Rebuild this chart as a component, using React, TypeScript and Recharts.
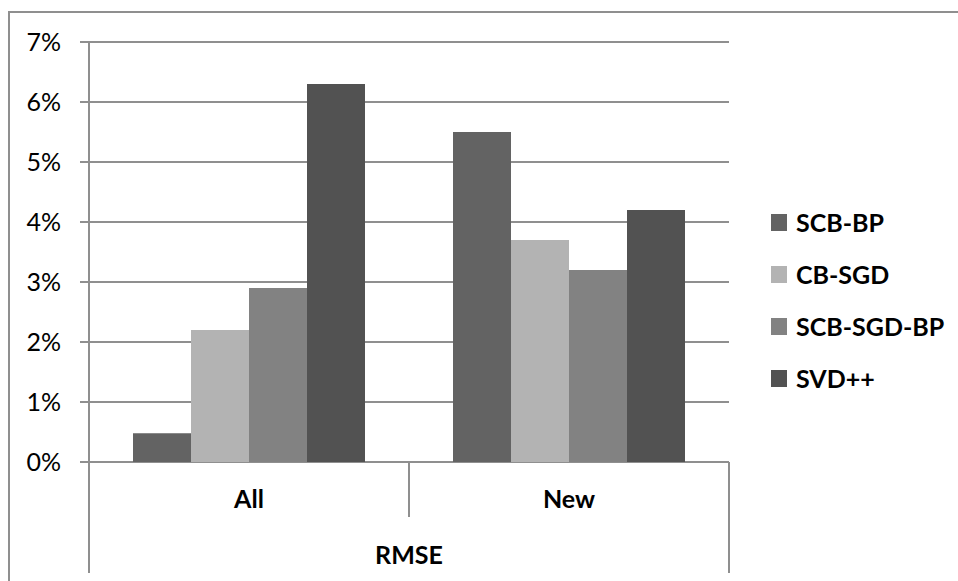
import React from 'react';
import { BarChart, Bar, XAxis, YAxis, CartesianGrid, Legend } from 'recharts';

const categories = ['All', 'New'];
const scbBp = [0.0048, 0.055];
const cbSgd = [0.022, 0.037];
const scbSgdBp = [0.029, 0.032];
const svdpp = [0.063, 0.042];
const yTicks = [0, 0.01, 0.02, 0.03, 0.04, 0.05, 0.06, 0.07];
const groupLabel = 'RMSE';

const seriesNames = ['SCB-BP', 'CB-SGD', 'SCB-SGD-BP', 'SVD++'];
const seriesColors = ['#636363', '#b3b3b3', '#828282', '#525252'];
const seriesValues = [scbBp, cbSgd, scbSgdBp, svdpp];

const data = categories.map((c, i) => {
  const row: Record<string, any> = { cat: c };
  seriesNames.forEach((n, k) => {
    row[n] = seriesValues[k][i];
  });
  return row;
});

const FONT = 'Lato, "Open Sans", sans-serif';
const LINE = '#8f8f8f';

const CatTick = (props: any) => {
  const { x, y, payload, index, visibleTicksCount } = props;
  const off = payload.offset || 0;
  const left = x - off;
  const right = x + off;
  const isFirst = index === 0;
  const isLast = index === visibleTicksCount - 1;
  return (
    <g>
      <text
        x={x}
        y={y + 46}
        textAnchor="middle"
        fontFamily={FONT}
        fontWeight={700}
        fontSize={25}
        fill="#000"
      >
        {payload.value}
      </text>
      <line x1={left} x2={left} y1={y} y2={y + (isFirst ? 111 : 55)} stroke={LINE} strokeWidth={2} />
      {isLast && <line x1={right} x2={right} y1={y} y2={y + 111} stroke={LINE} strokeWidth={2} />}
    </g>
  );
};

const LegendContent = (props: any) => {
  const payload = [...(props.payload || [])].sort(
    (a: any, b: any) => seriesNames.indexOf(a.value) - seriesNames.indexOf(b.value)
  );
  return (
    <ul style={{ listStyle: 'none', margin: 0, padding: 0 }}>
      {payload.map((e: any) => (
        <li
          key={e.value}
          style={{ display: 'flex', alignItems: 'center', height: 52, fontFamily: FONT, fontWeight: 700, fontSize: 25, color: '#000' }}
        >
          <span style={{ display: 'inline-block', width: 16, height: 17, background: e.color, marginRight: 9 }} />
          <span>{e.value}</span>
        </li>
      ))}
    </ul>
  );
};

export default function App() {
  return (
    <div style={{ position: 'absolute', left: 0, top: 0, width: 958, height: 581, overflow: 'hidden', background: '#fff' }}>
      <div
        style={{
          position: 'absolute',
          left: 8,
          top: 11,
          width: 1000,
          height: 1000,
          borderLeft: `2px solid ${LINE}`,
          borderTop: `2px solid ${LINE}`,
          boxSizing: 'border-box',
        }}
      />
      <div style={{ position: 'absolute', left: 0, top: 0 }}>
        <BarChart
          width={958}
          height={581}
          data={data}
          margin={{ top: 42, right: 229, bottom: 8, left: 0 }}
          barCategoryGap={44}
          barGap={0}
        >
          <CartesianGrid vertical={false} stroke={LINE} strokeWidth={2} horizontalValues={yTicks} />
          <YAxis
            type="number"
            domain={[0, 0.07]}
            ticks={yTicks}
            interval={0}
            width={89}
            tickSize={9}
            tickMargin={19}
            axisLine={{ stroke: LINE, strokeWidth: 2 }}
            tickLine={{ stroke: LINE, strokeWidth: 2 }}
            tick={{ fill: '#000', fontSize: 25, fontFamily: FONT }}
            tickFormatter={(v: number) => `${Math.round(v * 100)}%`}
          />
          <XAxis
            dataKey="cat"
            type="category"
            interval={0}
            height={111}
            tickSize={0}
            tickMargin={0}
            axisLine={false}
            tickLine={false}
            tick={<CatTick />}
            label={{ value: groupLabel, position: 'insideBottom', offset: 9, fill: '#000', fontSize: 25, fontWeight: 700, fontFamily: FONT }}
          />
          <Legend
            layout="vertical"
            align="center"
            verticalAlign="middle"
            wrapperStyle={{ left: 771, top: 196, width: 'auto' }}
            content={<LegendContent />}
          />
          {seriesNames.map((n, k) => (
            <Bar key={n} dataKey={n} name={n} fill={seriesColors[k]} isAnimationActive={false} />
          ))}
        </BarChart>
      </div>
    </div>
  );
}
